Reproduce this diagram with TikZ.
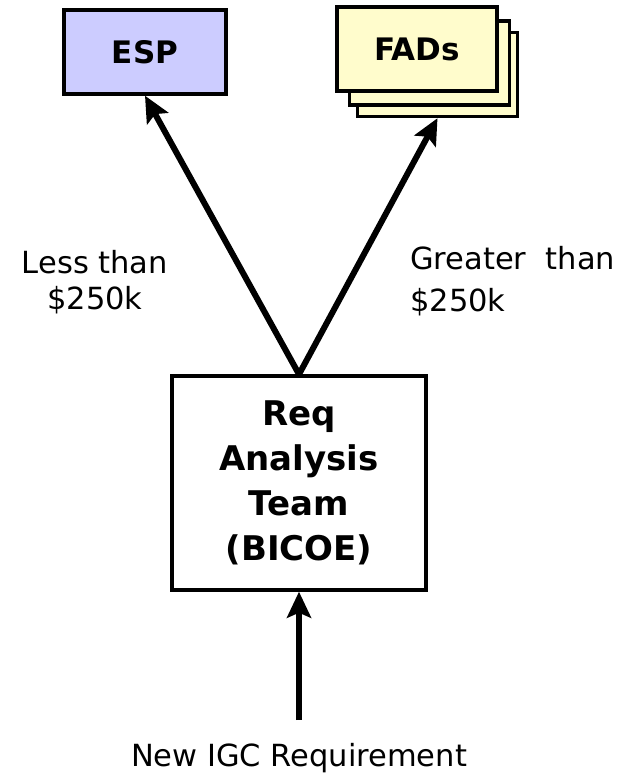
\documentclass[tikz,border=0pt]{standalone}
\usepackage{fontspec}
\setmainfont{DejaVu Sans}
\usetikzlibrary{calc,arrows.meta}

\begin{document}
\begin{tikzpicture}
      [x=1pt,y=-1pt
    % styles of the boxes
      ,box/.style={draw=black,line width=3.4pt,inner sep=0pt,font=\fontsize{31}{36}\selectfont\bfseries}
      ,espbox/.style={box,fill=blue!20,minimum width=162pt,minimum height=84pt}
      ,fadbox/.style={box,fill=yellow!20,minimum width=160pt,minimum height=84pt}
      ,reqbox/.style={box,fill=white,minimum width=254pt,minimum height=214pt,align=center,font=\fontsize{34}{45}\selectfont\bfseries}
    % labels and arrows
      ,lbl/.style={font=\fontsize{30.5}{36}\selectfont,inner sep=0pt}
      ,arr/.style={line width=6pt,-{Stealth[length=26pt,width=24pt,inset=5pt]}}
      ]
        \useasboundingbox (0,0) rectangle (635,774);

        \node[espbox] (esp) at (145,52) {ESP};
        \node[fadbox] (fads3) at (437.5,74.5) {};
        \node[fadbox] (fads2) at (429.5,63) {};
        \node[fadbox] (fads) at (417,49) {FADs};

        \node[reqbox] (req) at (299,483) {Req\\Analysis\\Team\\(BICOE)};

        \node[lbl,align=center] (less) at (95,282) {Less than\\\$250k};
        \node[lbl,align=left,anchor=west,font=\fontsize{30.5}{42}\selectfont] (more) at (410,281) {Greater\ \ than\\\$250k};
        \node[lbl,anchor=base] (new) at (299,766) {New IGC Requirement};
        \coordinate (in) at ($(new.base)+(0,-46)$);

        \draw[arr] (req.north) -- (esp.south);
        \draw[arr] (req.north) -- (fads3.south);
        \draw[arr] (in) -- (req.south);
       \end{tikzpicture}
\end{document}
